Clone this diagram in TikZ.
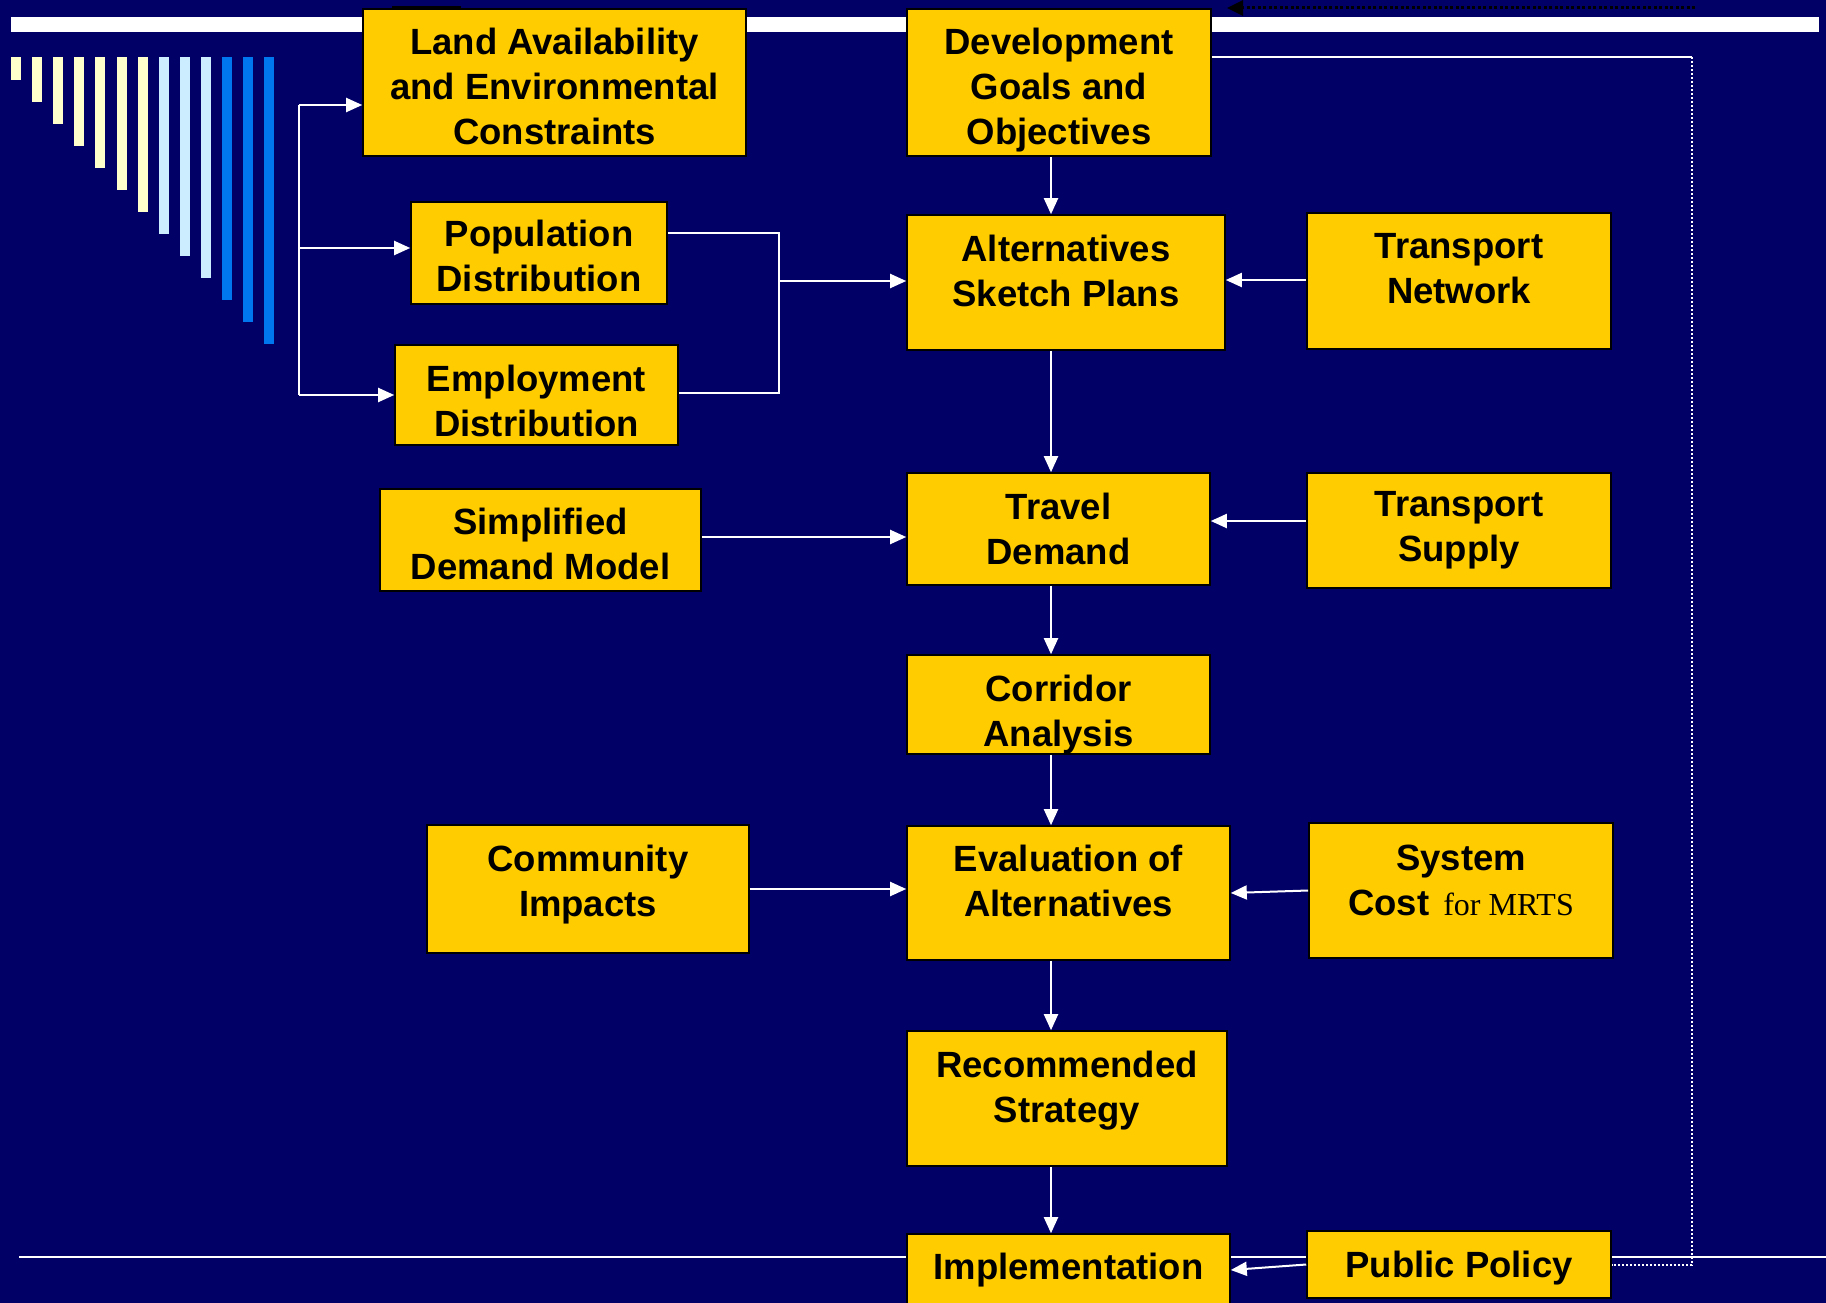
\documentclass[tikz,border=0pt]{standalone}
\usepackage{fontspec}
\setmainfont{Liberation Sans}
\newfontfamily\timesfont{Liberation Serif}
\usetikzlibrary{arrows.meta}
\definecolor{navy}{HTML}{000066}
\definecolor{gold}{HTML}{FFCC00}
\definecolor{pale}{HTML}{FFFFCC}
\definecolor{sky}{HTML}{CCECFF}
\definecolor{azure}{HTML}{0077EE}

\begin{document}
\begin{tikzpicture}[x=1pt, y=-1pt,
  box/.style={draw=black, line width=1.6pt, fill=gold, align=center, inner sep=0pt,
    font=\fontsize{36.5}{45}\selectfont\bfseries},
  sz/.style 2 args={minimum width=#1pt, minimum height=#2pt},
  lift/.style={text depth=#1pt},
  sink/.style={text height=#1pt},
  wire/.style={white, line width=2pt},
  arr/.style={wire, -{Triangle[length=16pt, width=14pt]}},
  dots/.style={white, line width=2pt, dash pattern=on 2pt off 2pt}]
  \useasboundingbox (0,0) rectangle (1826,1303);
  \fill[navy] (0,0) rectangle (1826,1303);
  \clip (0,0) rectangle (1826,1303);
  \fill[white] (11,17) rectangle (1819,32);
  \draw[white, line width=2.5pt] (19,1257) -- (1826,1257);
  \foreach \i in {0,...,12}{
    \ifnum\i<7 \def\c{pale}\else\ifnum\i<10 \def\c{sky}\else\def\c{azure}\fi\fi
    \fill[\c] ({11+21.1*\i},57) rectangle ++(10,{23+22*\i});
  }
  \fill[black] (392,6) rectangle (461,11);

  \node[box, sz={383}{147}, sink=125] (land) at (554.5,82.5) {Land Availability\\and Environmental\\Constraints};
  \node[box, sz={304}{147}, sink=132] (dev) at (1059,82.5) {Development\\Goals and\\Objectives};
  \node[box, sz={256}{102}, sink=78] (pop) at (539,253) {Population\\Distribution};
  \node[box, sz={283}{100}, sink=83] (emp) at (536.5,395) {Employment\\Distribution};
  \node[box, sz={318}{135}, lift=24] (alt) at (1066,282.5) {Alternatives\\Sketch Plans};
  \node[box, sz={304}{136}, lift=25] (tnet) at (1459,281) {Transport\\Network};
  \node[box, sz={321}{102}, sink=80] (simp) at (540.5,540) {Simplified\\Demand Model};
  \node[box, sz={303}{112}] (travel) at (1058.5,529) {Travel\\Demand};
  \node[box, sz={304}{115}] (tsup) at (1459,530.5) {Transport\\Supply};
  \node[box, sz={303}{99}, sink=91] (corr) at (1058.5,704.5) {Corridor\\Analysis};
  \node[box, sz={322}{128}, lift=17] (comm) at (588,889) {Community\\Impacts};
  \node[box, sz={323}{134}, lift=24] (eval) at (1068.5,893) {Evaluation of\\Alternatives};
  \node[box, sz={304}{135}, lift=21] (cost) at (1461,890.5) {System\\Cost\hspace{14pt}{\timesfont\mdseries\fontsize{32}{38}\selectfont for MRTS}};
  \node[box, sz={320}{135}, lift=23] (rec) at (1067,1098.5) {Recommended\\Strategy};
  \node[box, sz={323}{72}] (impl) at (1068.5,1270) {Implementation};
  \node[box, sz={304}{67}, sink=34] (pp) at (1459,1264.5) {Public Policy};

  \coordinate (spine) at (1051,0);
  \coordinate (fork) at (299,105);
  \coordinate (join) at (779,281);
  \coordinate (corner) at (1692,57);
  \coordinate (back) at (1695,8);
  \coordinate (tip) at (1227,8);

  \draw[arr] (dev.south -| spine) -- (alt.north -| spine);
  \draw[arr] (alt.south -| spine) -- (travel.north -| spine);
  \draw[arr] (travel.south -| spine) -- (corr.north -| spine);
  \draw[arr] (corr.south -| spine) -- (eval.north -| spine);
  \draw[arr] (eval.south -| spine) -- (rec.north -| spine);
  \draw[arr] (rec.south -| spine) -- (impl.north -| spine);

  \draw[wire] (fork) -- (fork |- emp.west);
  \draw[arr] (fork) -- (land.west |- fork);
  \draw[arr] (fork |- 0,248) -- (pop.west |- 0,248);
  \draw[arr] (fork |- emp.west) -- (emp.west);

  \draw[wire] (pop.east |- 0,233) -| (join) |- (emp.east |- 0,393);
  \draw[arr] (join) -- (alt.west |- join);
  \draw[arr] (tnet.west |- 0,280) -- (alt.east |- 0,280);
  \draw[arr] (simp.east |- 0,537) -- (travel.west |- 0,537);
  \draw[arr] (tsup.west |- 0,521) -- (travel.east |- 0,521);
  \draw[arr] (comm.east) -- (eval.west |- comm.east);
  \draw[arr] (cost.west) -- (eval.east);
  \draw[arr] (pp.west) -- (impl.east);

  \draw[wire] (dev.east |- corner) -- (corner);
  \draw[dots] (corner) -- (corner |- 0,1265) -- (pp.east |- 0,1265);
  \draw[black, line width=3pt, dash pattern=on 3pt off 2.5pt, -{Triangle[length=16pt, width=15pt]}] (back) -- (tip);
\end{tikzpicture}
\end{document}
